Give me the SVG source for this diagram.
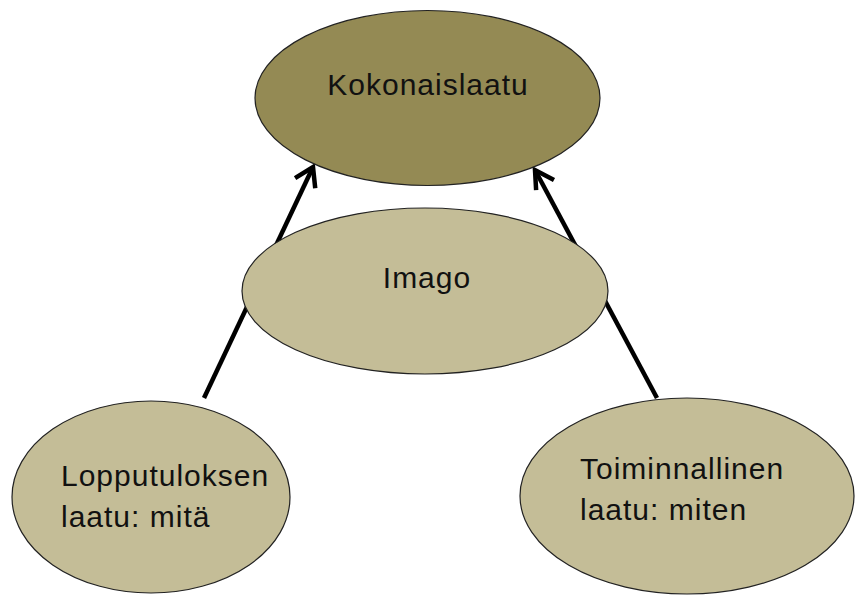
<svg xmlns="http://www.w3.org/2000/svg" width="856" height="596" viewBox="0 0 856 596">
<defs>
<style>
.n{stroke:#222;stroke-width:1.2}
.dark{fill:#948A54}
.light{fill:#C4BD97}
.t{font-family:"Liberation Sans",Arial,sans-serif;font-size:30px;fill:#111;letter-spacing:1px}
.c{stroke:#000;stroke-width:4.5;fill:none}
.h{stroke:#000;stroke-width:4.5;fill:none;stroke-linecap:square}
</style>
</defs>
<rect width="856" height="596" fill="#fff"/>
<g id="connectors">
<line class="c" x1="204" y1="398" x2="313" y2="167"/>
<polyline class="h" points="297,177 313,167 315,186"/>
<line class="c" x1="657" y1="398" x2="535" y2="170"/>
<polyline class="h" points="536,188 535,170 552,179"/>
</g>
<g id="kokonaislaatu">
<ellipse class="n dark" cx="427.5" cy="98" rx="172.5" ry="87.5"/>
<text class="t" x="428" y="95" text-anchor="middle">Kokonaislaatu</text>
</g>
<g id="imago">
<ellipse class="n light" cx="425" cy="291" rx="183" ry="83"/>
<text class="t" x="427" y="288" text-anchor="middle">Imago</text>
</g>
<g id="lopputuloksen">
<ellipse class="n light" cx="151" cy="497" rx="139" ry="96"/>
<text class="t" x="61" y="486">Lopputuloksen</text>
<text class="t" x="61" y="527">laatu: mitä</text>
</g>
<g id="toiminnallinen">
<ellipse class="n light" cx="687" cy="496" rx="167" ry="98"/>
<text class="t" x="580" y="479">Toiminnallinen</text>
<text class="t" x="580" y="520">laatu: miten</text>
</g>
</svg>
